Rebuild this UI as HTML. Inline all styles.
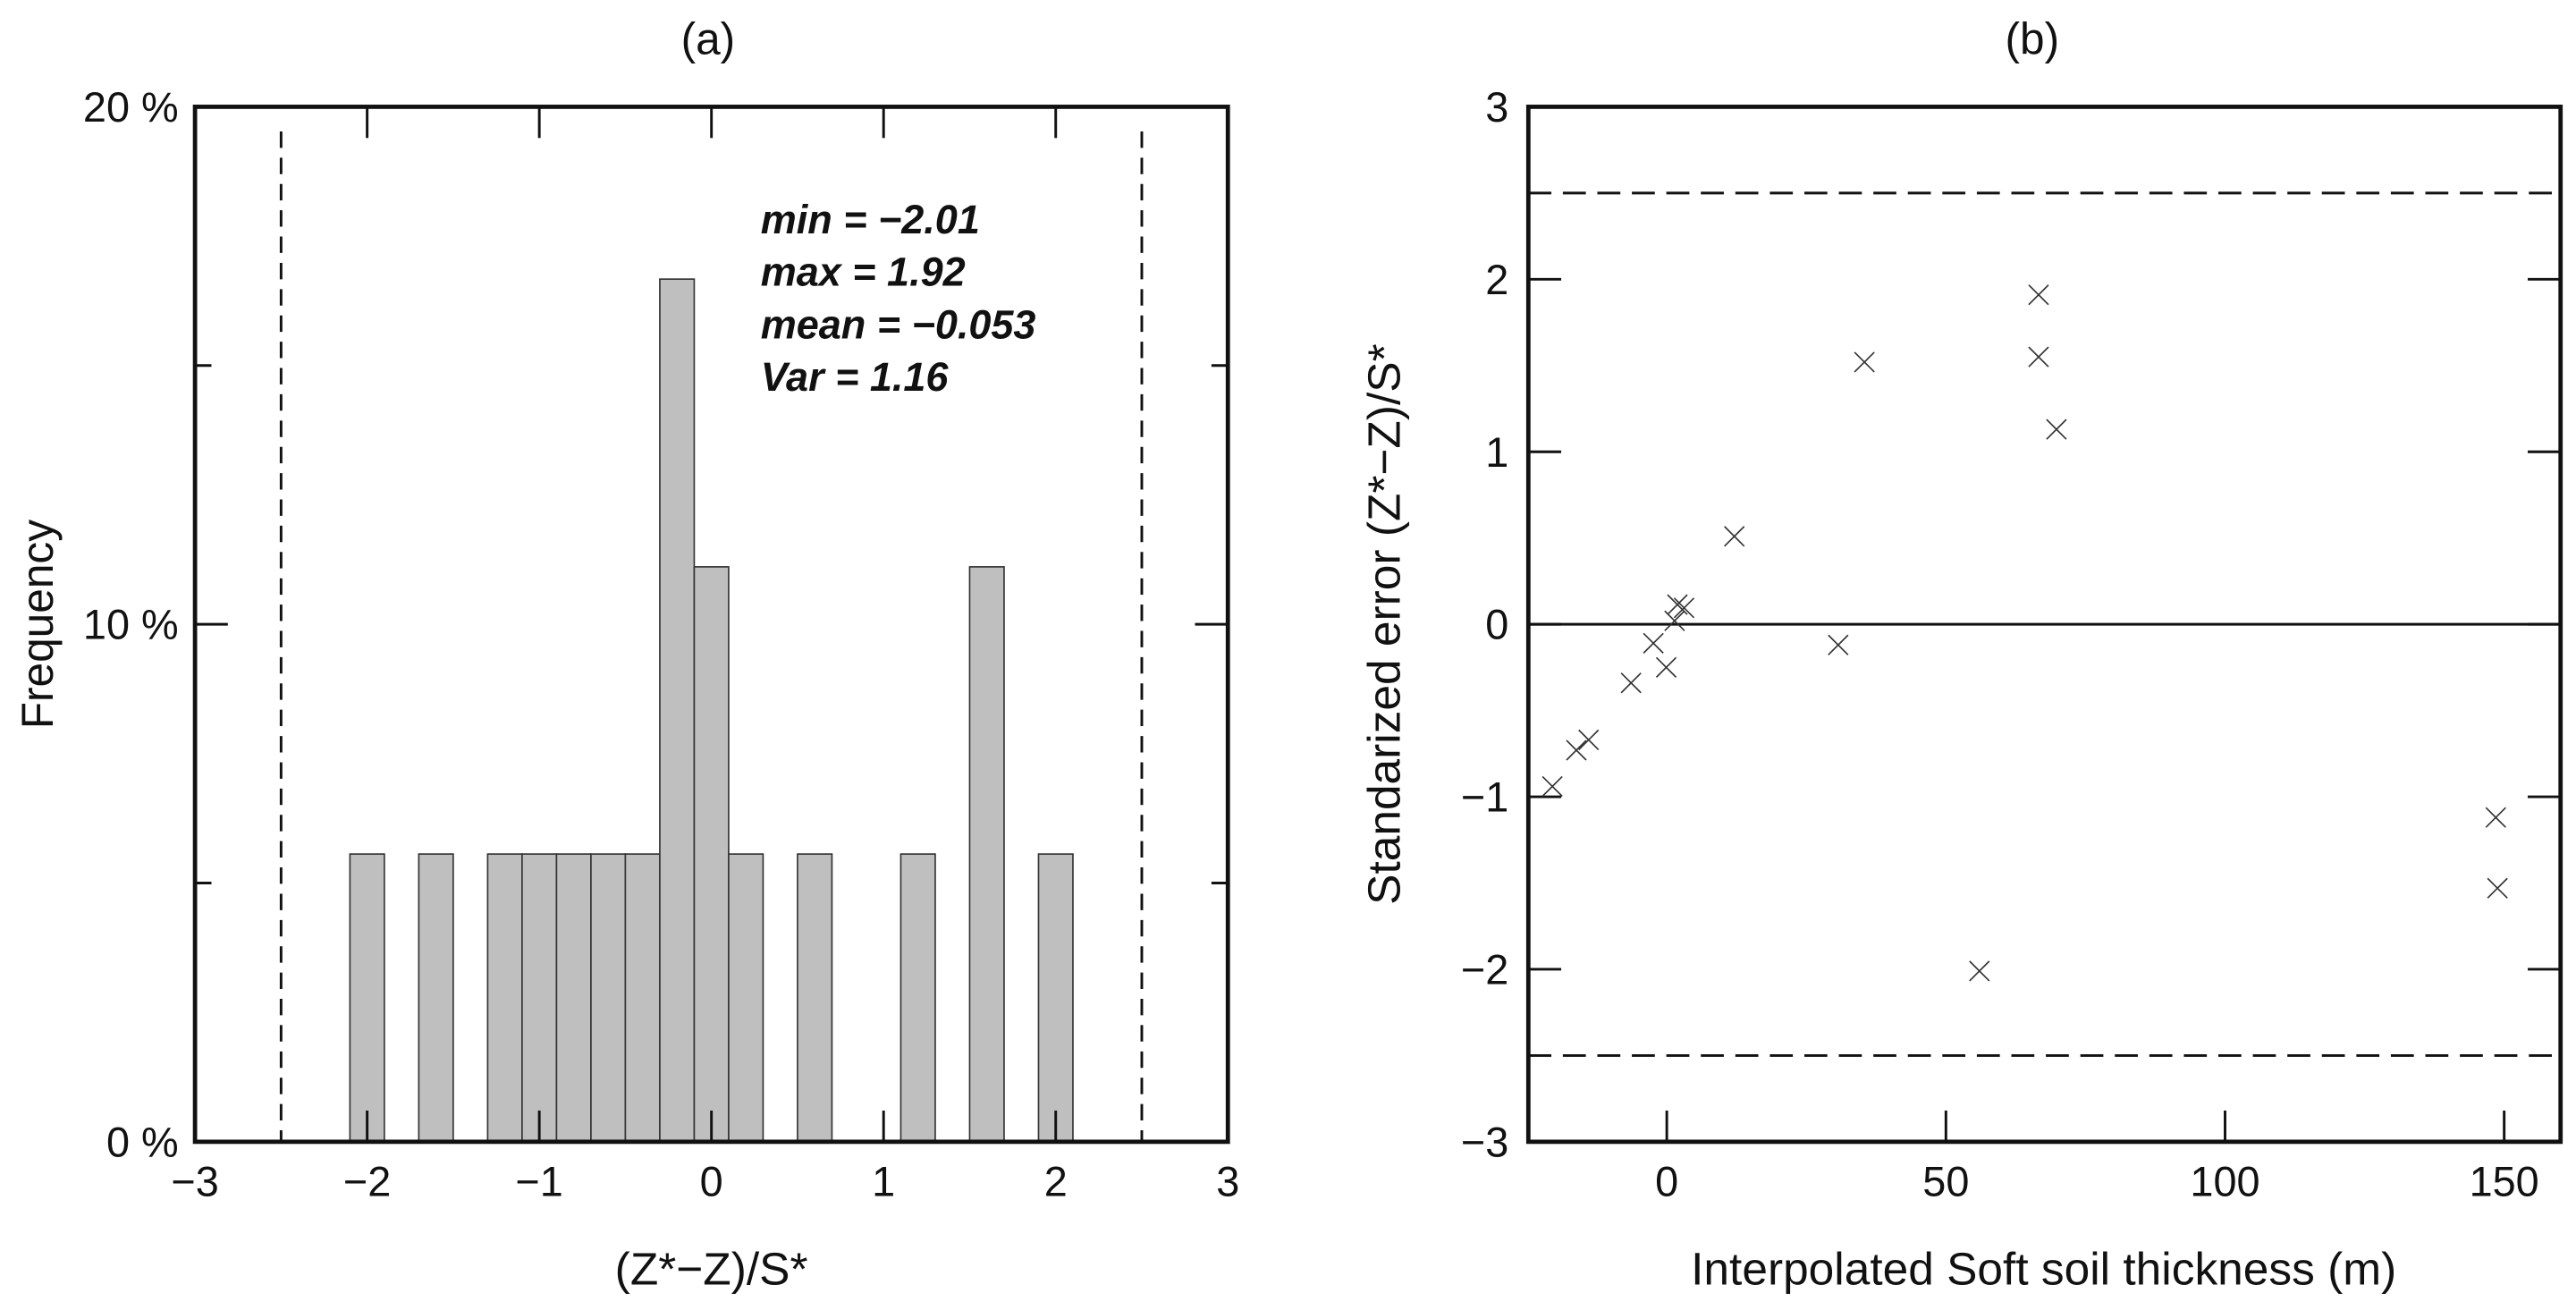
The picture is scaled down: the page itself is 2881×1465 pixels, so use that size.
<!DOCTYPE html>
<html><head><meta charset="utf-8"><style>
html,body{margin:0;padding:0;background:#fff;}
svg{display:block;font-family:"Liberation Sans",Arial,sans-serif;}
</style></head><body>
<svg id="fig" width="2881" height="1465" viewBox="0 0 1568 797.4" preserveAspectRatio="none" xmlns="http://www.w3.org/2000/svg">
<g id="pa"></g>
<g id="pb"></g>
</svg>
<script>
const binStarts = [-2.1,-1.7,-1.3,-1.1,-0.9,-0.7,-0.5,-0.3,-0.1,0.1,0.5,1.1,1.5,1.9];
const binFreq = [5.56,5.56,5.56,5.56,5.56,5.56,5.56,16.67,11.11,5.56,5.56,5.56,11.11,5.56];
const binWidth = 0.2;
const histXTicks = [-3,-2,-1,0,1,2,3];
const histYTicks = [0,10,20];
const statLines = ["min = \u22122.01","max = 1.92","mean = \u22120.053","Var = 1.16"];
const ptX = [1.9,3.1,1.4,-2.4,-0.1,-6.4,-14,-16.2,-20.5,30.7,12.1,35.4,56,66.6,66.6,69.8,148.5,148.8];
const ptY = [0.114,0.095,0.02,-0.11,-0.25,-0.34,-0.67,-0.73,-0.94,-0.12,0.51,1.52,-2.01,1.91,1.55,1.13,-1.12,-1.53];
const sxTicks = [0,50,100,150];
const syTicks = [-3,-2,-1,0,1,2,3];

const NS="http://www.w3.org/2000/svg";
function mk(parent,tag,attrs,text){const e=document.createElementNS(NS,tag);for(const k in attrs)e.setAttribute(k,attrs[k]);if(text!==undefined)e.textContent=text;parent.appendChild(e);return e;}
const fmt=v=>v<0?"\u2212"+Math.abs(v):String(v);
const TF=25.5;

// Panel A
const pa=document.getElementById('pa');
const aL=118.7,aR=747.4,aT=65,aB=695;
const ax=v=>aL+(v+3)/6*(aR-aL);
const ay=v=>aB-v/20*(aB-aT);
binStarts.forEach((s,i)=>{
  const r=mk(pa,'rect',{x:ax(s),y:ay(binFreq[i]),width:ax(s+binWidth)-ax(s),height:aB-ay(binFreq[i]),fill:'#bfbfbf',stroke:'#333','stroke-width':0.9});
  
  
});
[-2.5,2.5].forEach(v=>{
  const l=mk(pa,'line',{x1:ax(v),x2:ax(v),y1:aT+15,y2:aB,stroke:'#111','stroke-width':1.6,'stroke-dasharray':'10,6'});
  
  
});
histXTicks.forEach(v=>{
  if(v>-3&&v<3){
    mk(pa,'line',{x1:ax(v),x2:ax(v),y1:aB,y2:aB-19,stroke:'#111','stroke-width':1.6});
    mk(pa,'line',{x1:ax(v),x2:ax(v),y1:aT,y2:aT+19,stroke:'#111','stroke-width':1.6});
  }
  const t=mk(pa,'text',{x:ax(v),y:aB+33,'text-anchor':'middle','font-size':TF,fill:'#111'},fmt(v));
  
  
});
[5,10,15].forEach(v=>{
  const len=v===10?20:10;
  mk(pa,'line',{x1:aL,x2:aL+len,y1:ay(v),y2:ay(v),stroke:'#111','stroke-width':1.6});
  mk(pa,'line',{x1:aR,x2:aR-len,y1:ay(v),y2:ay(v),stroke:'#111','stroke-width':1.6});
});
histYTicks.forEach(v=>{
  const t=mk(pa,'text',{x:aL-10,y:ay(v)+9,'text-anchor':'end','font-size':TF,fill:'#111'},v+" %");
  
  
});
const fa=mk(pa,'rect',{x:aL,y:aT,width:aR-aL,height:aB-aT,fill:'none',stroke:'#111','stroke-width':2.6});


statLines.forEach((s,i)=>{
  const t=mk(pa,'text',{x:463,y:142+i*32,'font-size':24.5,'font-weight':'bold','font-style':'italic',fill:'#111'},s);
  
  
});
let t;
t=mk(pa,'text',{x:431,y:33,'text-anchor':'middle','font-size':27,fill:'#111'},"(a)");


t=mk(pa,'text',{x:433,y:782,'text-anchor':'middle','font-size':28,fill:'#111'},"(Z*\u2212Z)/S*");


t=mk(pa,'text',{x:0,y:0,'text-anchor':'middle','font-size':27,fill:'#111',transform:'translate(32,380) rotate(-90)'},"Frequency");



// Panel B
const pb=document.getElementById('pb');
const bL=930.3,bR=1558.6,bT=65,bB=695;
const xmin=-24.8,xmax=160.1;
const bx=v=>bL+(v-xmin)/(xmax-xmin)*(bR-bL);
const by=v=>bB-(v+3)/6*(bB-bT);
[-2.5,2.5].forEach(v=>{
  const l=mk(pb,'line',{x1:bL,x2:bR,y1:by(v),y2:by(v),stroke:'#111','stroke-width':1.6,'stroke-dasharray':'14,7'});
  
  
});
const zl=mk(pb,'line',{x1:bL,x2:bR,y1:by(0),y2:by(0),stroke:'#111','stroke-width':1.6});


sxTicks.forEach(v=>{
  mk(pb,'line',{x1:bx(v),x2:bx(v),y1:bB,y2:bB-19,stroke:'#111','stroke-width':1.6});
  const t=mk(pb,'text',{x:bx(v),y:bB+33,'text-anchor':'middle','font-size':TF,fill:'#111'},String(v));
  
  
});
syTicks.forEach(v=>{
  if(v>-3&&v<3){
    mk(pb,'line',{x1:bL,x2:bL+20,y1:by(v),y2:by(v),stroke:'#111','stroke-width':1.6});
    mk(pb,'line',{x1:bR,x2:bR-20,y1:by(v),y2:by(v),stroke:'#111','stroke-width':1.6});
  }
  const t=mk(pb,'text',{x:bL-12,y:by(v)+9,'text-anchor':'end','font-size':TF,fill:'#111'},fmt(v));
  
  
});
ptX.forEach((xv,i)=>{
  const cx=bx(xv),cy=by(ptY[i]),h=6;
  const p=mk(pb,'path',{d:`M${cx-h},${cy-h}L${cx+h},${cy+h}M${cx-h},${cy+h}L${cx+h},${cy-h}`,stroke:'#333','stroke-width':0.9,fill:'none'});
  
  
});
const fb=mk(pb,'rect',{x:bL,y:bT,width:bR-bL,height:bB-bT,fill:'none',stroke:'#111','stroke-width':2.6});


t=mk(pb,'text',{x:1237,y:33,'text-anchor':'middle','font-size':27,fill:'#111'},"(b)");


t=mk(pb,'text',{x:1244,y:782,'text-anchor':'middle','font-size':28,fill:'#111'},"Interpolated Soft soil thickness (m)");


t=mk(pb,'text',{x:0,y:0,'text-anchor':'middle','font-size':28,fill:'#111',transform:'translate(852,380) rotate(-90)'},"Standarized error (Z*\u2212Z)/S*");


</script>
</body></html>
